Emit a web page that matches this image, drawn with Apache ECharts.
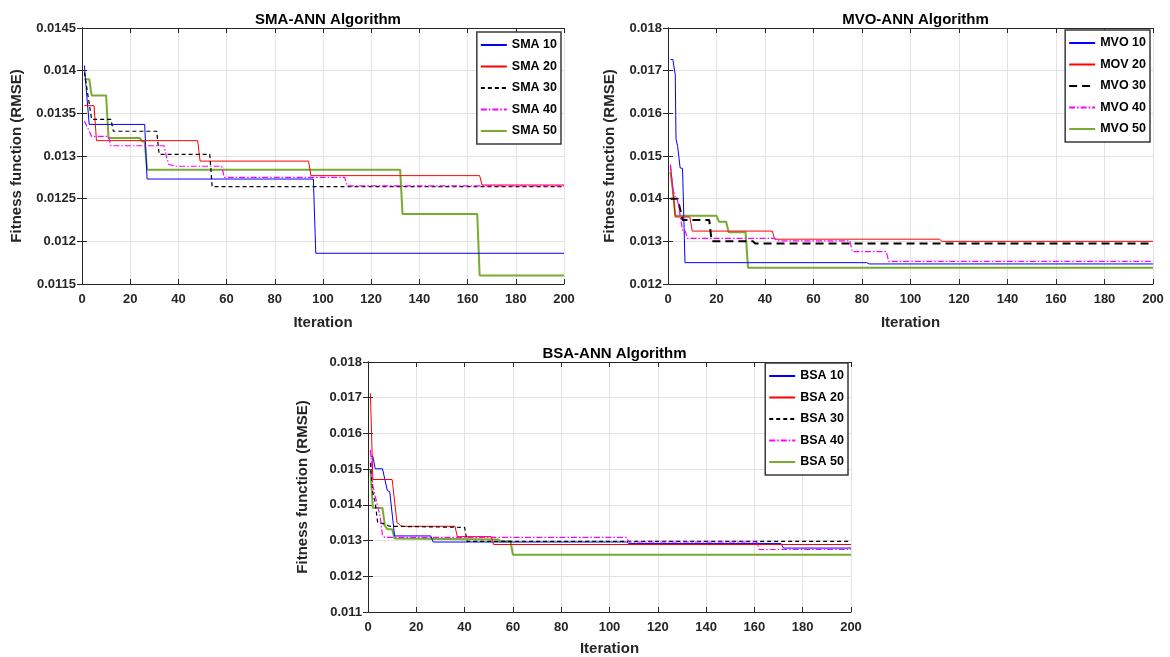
<!DOCTYPE html>
<html><head><meta charset="utf-8">
<script src="https://cdn.jsdelivr.net/npm/echarts@6/dist/echarts.min.js"></script>
<style>html,body{margin:0;padding:0;background:#fff}#c{width:1170px;height:657px}</style>
</head><body><div id="c"></div>
<script>
// ---------- tick labels ----------
const xTicks = [0, 20, 40, 60, 80, 100, 120, 140, 160, 180, 200];
const smaYTicks = [0.0115, 0.012, 0.0125, 0.013, 0.0135, 0.014, 0.0145];
const mvoYTicks = [0.012, 0.013, 0.014, 0.015, 0.016, 0.017, 0.018];
const bsaYTicks = [0.011, 0.012, 0.013, 0.014, 0.015, 0.016, 0.017, 0.018];

// ---------- titles / names ----------
const titles = ['SMA-ANN Algorithm', 'MVO-ANN Algorithm', 'BSA-ANN Algorithm'];
const smaNames = ['SMA 10', 'SMA 20', 'SMA 30', 'SMA 40', 'SMA 50'];
const mvoNames = ['MVO 10', 'MOV 20', 'MVO 30', 'MVO 40', 'MVO 50'];
const bsaNames = ['BSA 10', 'BSA 20', 'BSA 30', 'BSA 40', 'BSA 50'];

// ---------- SMA-ANN  [iteration, RMSE] breakpoints ----------
const sma10 = [[1,0.01406],[2,0.0137],[3,0.01337],[26,0.01337],[27,0.01273],[96,0.01273],[97,0.01186],[200,0.01186]];
const sma20 = [[1,0.01359],[5,0.01359],[6,0.01318],[48,0.01318],[49,0.01294],[94,0.01294],[95,0.01277],[165,0.01277],[166,0.01266],[200,0.01266]];
const sma30 = [[1,0.01398],[4,0.01343],[12,0.01343],[13,0.01329],[31,0.01329],[32,0.01302],[53,0.01302],[54,0.01264],[200,0.01264]];
const sma40 = [[1,0.01341],[4,0.01323],[11,0.01323],[12,0.01312],[34,0.01312],[35,0.013],[36,0.0129],[39,0.01288],[58,0.01288],[59,0.01275],[109,0.01275],[110,0.01265],[200,0.01265]];
const sma50 = [[1,0.0139],[3,0.0139],[4,0.01371],[10,0.01371],[11,0.01321],[24,0.01321],[25,0.01317],[26,0.01317],[27,0.01284],[132,0.01284],[133,0.01232],[164,0.01232],[165,0.0116],[200,0.0116]];

// ---------- MVO-ANN ----------
const mvo10 = [[1,0.01726],[2,0.01726],[3,0.0169],[3.3,0.0154],[4,0.01522],[5,0.01472],[6,0.01471],[7,0.0125],[82,0.0125],[83,0.01247],[200,0.01247]];
const mvo20 = [[1,0.0148],[2,0.0142],[3,0.01357],[9,0.01357],[10,0.01324],[43,0.01324],[44,0.01305],[112,0.01305],[113,0.013],[200,0.013]];
const mvo30 = [[1,0.014],[4,0.014],[6,0.0135],[17,0.0135],[18,0.013],[35,0.013],[36,0.01295],[200,0.01295]];
const mvo40 = [[1,0.01478],[2,0.0142],[3,0.01405],[4,0.01395],[5,0.01361],[6,0.01326],[7,0.01326],[8,0.01307],[44,0.01307],[45,0.01301],[75,0.01301],[76,0.01276],[90,0.01276],[91,0.01253],[200,0.01253]];
const mvo50 = [[1,0.01463],[2,0.0142],[3,0.0136],[20,0.0136],[21,0.01346],[24,0.01346],[25,0.01321],[32,0.01321],[33,0.01238],[200,0.01238]];

// ---------- BSA-ANN ----------
const bsa10 = [[1,0.01536],[2,0.01536],[3,0.01501],[6,0.01501],[8,0.0144],[9,0.01437],[11,0.01313],[26,0.01313],[27,0.01296],[107,0.01296],[108,0.01292],[171,0.01292],[172,0.01279],[200,0.01279]];
const bsa20 = [[1,0.01712],[2,0.01471],[10,0.01471],[12,0.0135],[14,0.0134],[36,0.0134],[37,0.01311],[51,0.01311],[52,0.01289],[200,0.01289]];
const bsa30 = [[1,0.01517],[2,0.01434],[3,0.01406],[4,0.0135],[6,0.01348],[9,0.0134],[40,0.01337],[41,0.01298],[200,0.01298]];
const bsa40 = [[1,0.01554],[2,0.01454],[3,0.01424],[5,0.01369],[6,0.01313],[7,0.01309],[107,0.01309],[108,0.01296],[161,0.01296],[162,0.01275],[200,0.01275]];
const bsa50 = [[1,0.01499],[2,0.01392],[6,0.01391],[7,0.01341],[8,0.01332],[10,0.01332],[11,0.01306],[54,0.01303],[55,0.01298],[59,0.01298],[60,0.0126],[200,0.0126]];

// ---------- build ----------
const FONT = "'Liberation Sans', Arial, sans-serif";
const AX = '#262626';
const grids = [
  {left: 82, top: 28, width: 482, height: 256},
  {left: 668, top: 28, width: 485, height: 256},
  {left: 368, top: 362, width: 483, height: 251}
];
const yTickSets = [smaYTicks, mvoYTicks, bsaYTicks];
const yNameGaps = [58, 51, 58];
const xNameGaps = [31, 31, 29];
const legendTopOff = [4, 2, 1];
const styles = [
  {color: '#0000ff', width: 1, type: 'solid'},
  {color: '#ff0000', width: 1, type: 'solid'},
  {color: '#000000', width: 1.2, type: [4, 3]},
  {color: '#ff00ff', width: 1.2, type: [6, 2, 1.5, 2]},
  {color: '#77ac30', width: 2, type: 'solid'}
];
const dataSets = [[sma10, sma20, sma30, sma40, sma50], [mvo10, mvo20, mvo30, mvo40, mvo50], [bsa10, bsa20, bsa30, bsa40, bsa50]];
const nameSets = [smaNames, mvoNames, bsaNames];

const xAxes = [], yAxes = [], series = [], titleOpts = [], legends = [];
grids.forEach((g, i) => {
  const yt = yTickSets[i];
  const xMin = xTicks[0], xMax = xTicks[xTicks.length - 1], xInt = xTicks[1] - xTicks[0];
  const yMin = yt[0], yMax = yt[yt.length - 1], yInt = +(yt[1] - yt[0]).toFixed(6);
  const baseLabel = {color: AX, fontWeight: 'bold', fontSize: 13, fontFamily: FONT};
  xAxes.push({
    gridIndex: i, type: 'value', position: 'bottom', min: xMin, max: xMax, interval: xInt,
    axisLine: {lineStyle: {color: AX, width: 1}}, axisTick: {inside: true, length: 5, lineStyle: {color: AX}},
    axisLabel: Object.assign({margin: 9, showMinLabel: true, showMaxLabel: true}, baseLabel),
    splitLine: {show: true, lineStyle: {color: '#e3e3e3', width: 1}},
    name: 'Iteration', nameLocation: 'middle', nameGap: xNameGaps[i],
    nameTextStyle: {color: AX, fontWeight: 'bold', fontSize: 15, fontFamily: FONT}
  });
  xAxes.push({
    gridIndex: i, type: 'value', position: 'top', min: xMin, max: xMax, interval: xInt,
    axisLine: {lineStyle: {color: AX, width: 1}}, axisTick: {inside: true, length: 5, lineStyle: {color: AX}},
    axisLabel: {show: false}, splitLine: {show: false}
  });
  yAxes.push({
    gridIndex: i, type: 'value', position: 'left', min: yMin, max: yMax, interval: yInt,
    axisLine: {show: true, lineStyle: {color: AX, width: 1}}, axisTick: {show: true, inside: true, length: 5, lineStyle: {color: AX}},
    axisLabel: Object.assign({margin: 6, showMinLabel: true, showMaxLabel: true, formatter: v => String(+v.toFixed(5))}, baseLabel),
    splitLine: {show: true, lineStyle: {color: '#e3e3e3', width: 1}},
    name: 'Fitness function (RMSE)', nameLocation: 'middle', nameGap: yNameGaps[i], nameRotate: 90,
    nameTextStyle: {color: AX, fontWeight: 'bold', fontSize: 15, fontFamily: FONT}
  });
  yAxes.push({
    gridIndex: i, type: 'value', position: 'right', min: yMin, max: yMax, interval: yInt,
    axisLine: {show: true, lineStyle: {color: AX, width: 1}}, axisTick: {show: true, inside: true, length: 5, lineStyle: {color: AX}},
    axisLabel: {show: false}, splitLine: {show: false}
  });
  titleOpts.push({
    text: titles[i], left: g.left + g.width / 2, top: g.top - 21, textAlign: 'center',
    textStyle: {color: '#000', fontWeight: 'bold', fontSize: 15, fontFamily: FONT}
  });
  dataSets[i].forEach((d, k) => {
    const st = Object.assign({}, styles[k]);
    if (i === 1 && k === 2) { st.width = 2; st.type = [8, 5]; }
    series.push({
      type: 'line', name: nameSets[i][k], xAxisIndex: 2 * i, yAxisIndex: 2 * i,
      data: d, symbol: 'none', showSymbol: false, animation: false,
      lineStyle: st, itemStyle: {color: st.color}, z: k === 4 ? 2 : 3
    });
  });
  legends.push({
    data: nameSets[i], orient: 'vertical', right: 1170 - (g.left + g.width) + 3, top: g.top + legendTopOff[i],
    backgroundColor: '#fff', borderColor: '#3a3a3a', borderWidth: 1.5,
    padding: [6, 4, 6, 3], itemWidth: 26, itemHeight: 14, itemGap: 7.5,
    itemStyle: {opacity: 0},
    textStyle: {color: '#000', fontWeight: 'bold', fontSize: 12.5, fontFamily: FONT, lineHeight: 14},
    selectedMode: false
  });
});

const chart = echarts.init(document.getElementById('c'), null, {renderer: 'canvas'});
chart.setOption({
  animation: false, backgroundColor: '#fff',
  title: titleOpts, legend: legends, grid: grids, xAxis: xAxes, yAxis: yAxes, series: series
});
</script>
</body></html>
